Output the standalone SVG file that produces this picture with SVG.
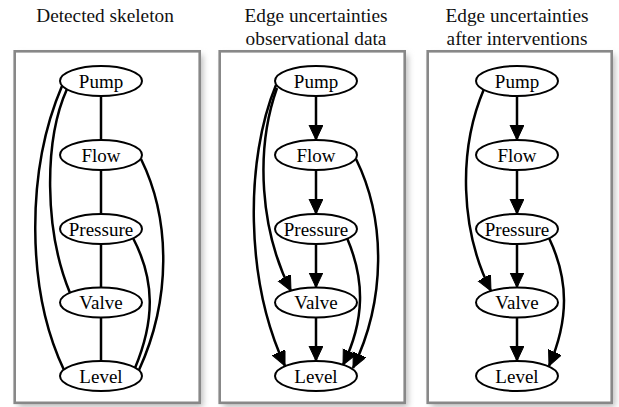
<svg xmlns="http://www.w3.org/2000/svg" width="619" height="407" viewBox="0 0 619 407">
<style>
.t{font-size:19.3px;fill:#111;text-anchor:middle}
.n ellipse{fill:#fff;stroke:#000;stroke-width:2}
.n text{font-size:19px;fill:#000;text-anchor:middle}
.box{fill:#fff;stroke:#888;stroke-width:2.6}
.sh{fill:#bbb;filter:url(#blur)}
.e path{fill:none;stroke:#000;stroke-width:2.5}
.a path{marker-end:url(#ah)}
</style>
<defs>
<filter id="blur" x="-20%" y="-20%" width="140%" height="140%"><feGaussianBlur stdDeviation="3"/></filter>
<marker id="ah" markerUnits="userSpaceOnUse" markerWidth="18" markerHeight="16" refX="15" refY="7" orient="auto"><path d="M0,0 L15,7 L0,14 z" fill="#000" stroke="#000" stroke-width="1"/></marker>
</defs>
<rect width="619" height="407" fill="#fff"/>
<g font-family="'Liberation Serif', Tinos, 'Times New Roman', Times, 'Nimbus Roman', 'Noto Serif', 'DejaVu Serif', serif">
<g id="titles">
<text class="t" x="105" y="22">Detected skeleton</text>
<text class="t" x="316" y="22">Edge uncertainties</text>
<text class="t" x="316" y="45">observational data</text>
<text class="t" x="517" y="22">Edge uncertainties</text>
<text class="t" x="517" y="45">after interventions</text>
</g>
<g id="panels">
<rect class="sh" x="18" y="55" width="185" height="352"/>
<rect class="sh" x="223" y="55" width="185" height="352"/>
<rect class="sh" x="431" y="55" width="184" height="352"/>
<rect class="box" x="14.7" y="51.3" width="185" height="351.5"/>
<rect class="box" x="219.7" y="51.3" width="185" height="351.5"/>
<rect class="box" x="427.7" y="51.3" width="184" height="351.5"/>
</g>
<g id="connectors">
<g class="e">
<path d="M101,96 L101,140"/>
<path d="M101,170 L101,214"/>
<path d="M101,244 L101,287.5"/>
<path d="M101,317.5 L101,361"/>
<path d="M67,89 C44,140 44,230 70,293"/>
<path d="M62,86 C26,170 26,290 64,370"/>
<path d="M141,159 C171,220 171,300 139,370"/>
<path d="M133,238 C155,280 155,320 135,368"/>
</g>
<g class="e a">
<path d="M316,96 L316,140"/>
<path d="M316,170 L316,214"/>
<path d="M316,244 L316,287.5"/>
<path d="M316,317.5 L316,361"/>
<path d="M277,88 C255,150 260,230 291,291"/>
<path d="M276,85 C245,160 245,280 285,366"/>
<path d="M356,159 C386,220 386,300 353,368"/>
<path d="M347,238 C365,280 365,320 343,365"/>
<path d="M517,96 L517,140"/>
<path d="M517,170 L517,214"/>
<path d="M517,244 L517,287.5"/>
<path d="M517,317.5 L517,361"/>
<path d="M484,89 C458,150 460,230 491,291"/>
<path d="M549,238 C569,280 569,320 549,366"/>
</g>
</g>
<g id="p1-pump" class="n"><ellipse cx="101" cy="81" rx="41" ry="15"/><text x="101" y="87.5">Pump</text></g>
<g id="p1-flow" class="n"><ellipse cx="101" cy="155" rx="41" ry="15"/><text x="101" y="161.5">Flow</text></g>
<g id="p1-pressure" class="n"><ellipse cx="101" cy="229" rx="41" ry="15"/><text x="101" y="235.5">Pressure</text></g>
<g id="p1-valve" class="n"><ellipse cx="101" cy="302.5" rx="41" ry="15"/><text x="101" y="309">Valve</text></g>
<g id="p1-level" class="n"><ellipse cx="101" cy="376" rx="41" ry="15"/><text x="101" y="382.5">Level</text></g>
<g id="p2-pump" class="n"><ellipse cx="316" cy="81" rx="41" ry="15"/><text x="316" y="87.5">Pump</text></g>
<g id="p2-flow" class="n"><ellipse cx="316" cy="155" rx="41" ry="15"/><text x="316" y="161.5">Flow</text></g>
<g id="p2-pressure" class="n"><ellipse cx="316" cy="229" rx="41" ry="15"/><text x="316" y="235.5">Pressure</text></g>
<g id="p2-valve" class="n"><ellipse cx="316" cy="302.5" rx="41" ry="15"/><text x="316" y="309">Valve</text></g>
<g id="p2-level" class="n"><ellipse cx="316" cy="376" rx="41" ry="15"/><text x="316" y="382.5">Level</text></g>
<g id="p3-pump" class="n"><ellipse cx="517" cy="81" rx="41" ry="15"/><text x="517" y="87.5">Pump</text></g>
<g id="p3-flow" class="n"><ellipse cx="517" cy="155" rx="41" ry="15"/><text x="517" y="161.5">Flow</text></g>
<g id="p3-pressure" class="n"><ellipse cx="517" cy="229" rx="41" ry="15"/><text x="517" y="235.5">Pressure</text></g>
<g id="p3-valve" class="n"><ellipse cx="517" cy="302.5" rx="41" ry="15"/><text x="517" y="309">Valve</text></g>
<g id="p3-level" class="n"><ellipse cx="517" cy="376" rx="41" ry="15"/><text x="517" y="382.5">Level</text></g>
</g>
</svg>
